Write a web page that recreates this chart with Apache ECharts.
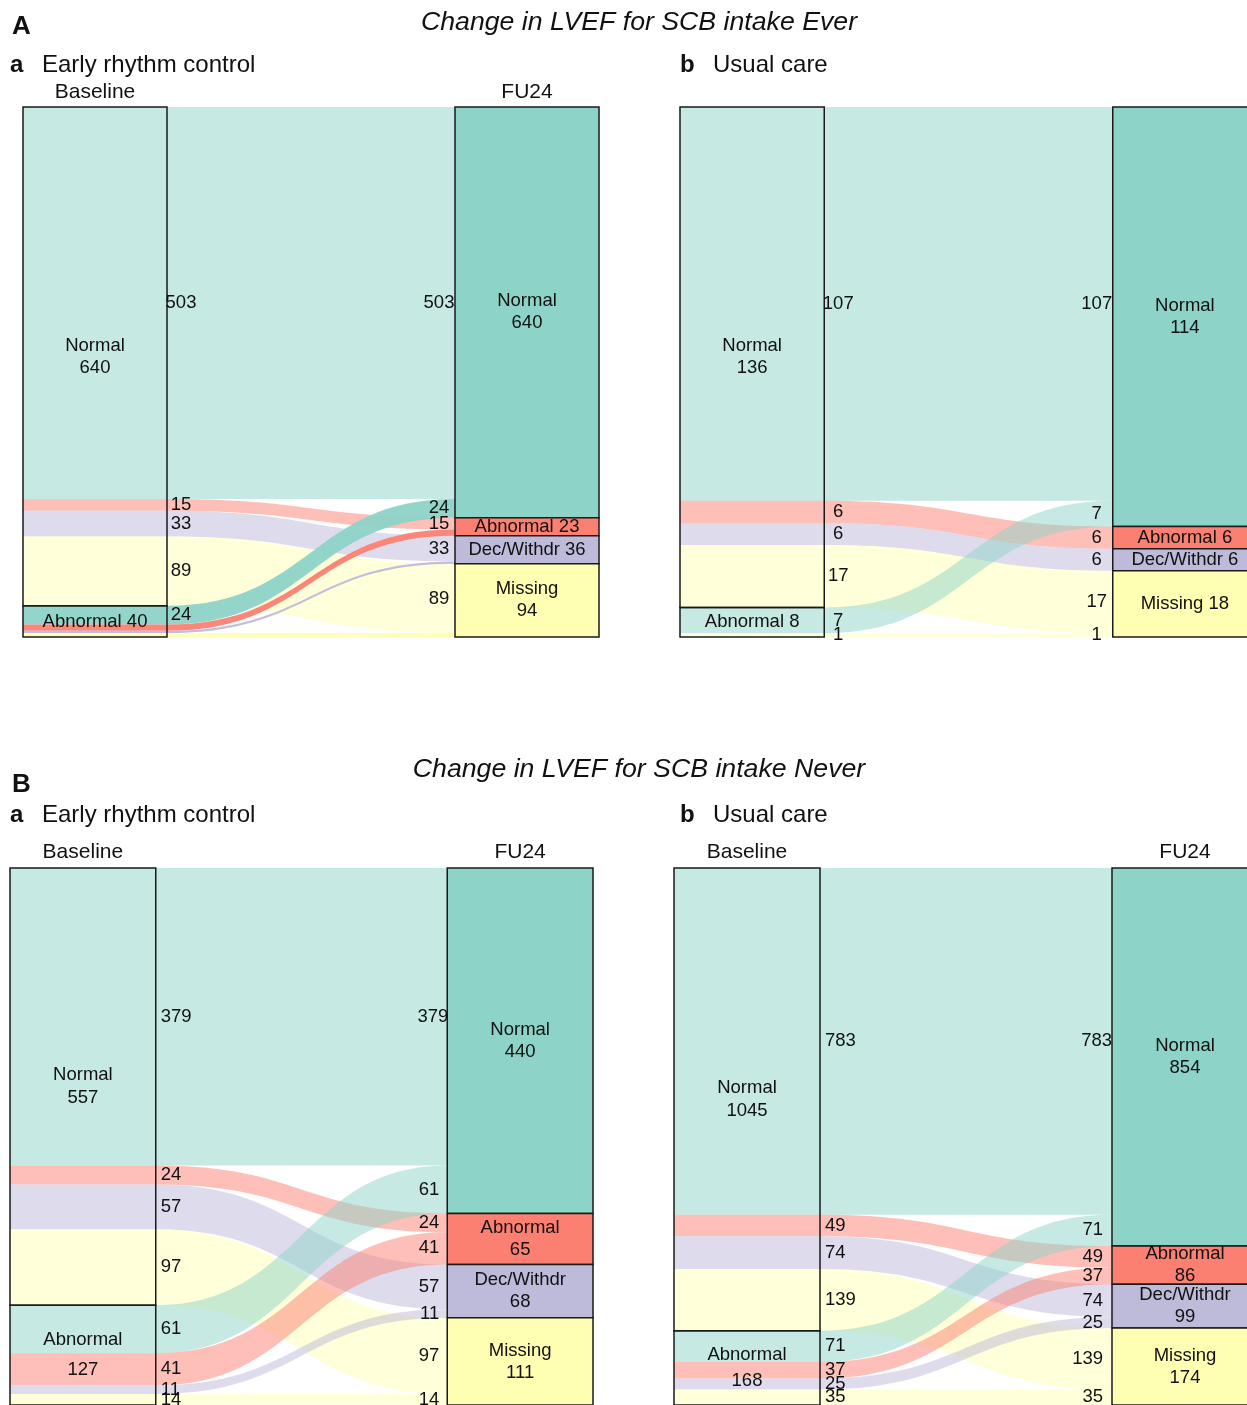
<!DOCTYPE html>
<html>
<head>
<meta charset="utf-8">
<script src="https://cdn.jsdelivr.net/npm/echarts@6/dist/echarts.min.js"></script>
<style>
html, body { margin: 0; padding: 0; background: #fff; }
#chart { width: 1247px; height: 1405px; }
</style>
</head>
<body>
<div id="chart"></div>
<script>
"use strict"

// categories
const baseCats = ["Normal", "Abnormal"];
const fuCats = ["Normal", "Abnormal", "Dec/Withdr", "Missing"];

// flows: rows = baseline category, cols = FU24 category
const everRhythmFlows = [[503, 15, 33, 89], [24, 8, 3, 5]];
const everUsualFlows = [[107, 6, 6, 17], [7, 0, 0, 1]];
const neverRhythmFlows = [[379, 24, 57, 97], [61, 41, 11, 14]];
const neverUsualFlows = [[783, 49, 74, 139], [71, 37, 25, 35]];

// stratum labels as printed
const everRhythmBaseLabels = ["Normal\n640", "Abnormal 40"];
const everRhythmFuLabels = ["Normal\n640", "Abnormal 23", "Dec/Withdr 36", "Missing\n94"];
const everUsualBaseLabels = ["Normal\n136", "Abnormal 8"];
const everUsualFuLabels = ["Normal\n114", "Abnormal 6", "Dec/Withdr 6", "Missing 18"];
const neverRhythmBaseLabels = ["Normal\n557", "Abnormal\n127"];
const neverRhythmFuLabels = ["Normal\n440", "Abnormal\n65", "Dec/Withdr\n68", "Missing\n111"];
const neverUsualBaseLabels = ["Normal\n1045", "Abnormal\n168"];
const neverUsualFuLabels = ["Normal\n854", "Abnormal\n86", "Dec/Withdr\n99", "Missing\n174"];

// which flow counts are printed (small ones hidden in panel A a)
const everRhythmShown = [[1, 1, 1, 1], [1, 0, 0, 0]];

const colors = ["#8dd3c7", "#fb8072", "#bebada", "#ffffb3"];
const FONT = "'Liberation Sans', Arial, sans-serif";
const TXT = "#111";
const PAGE_W = 1247;

function rgba(hex, a)
{
    const n = parseInt(hex.slice(1), 16);
    return `rgba(${n >> 16},${(n >> 8) & 255},${n & 255},${a})`;
}

const panels = [
    {
        flows: everRhythmFlows, baseLabels: everRhythmBaseLabels, fuLabels: everRhythmFuLabels, shown: everRhythmShown,
        left: 23, top: 107, unit: 144, height: 530, headY: 92, solidFrom: 1, baseLH: [22, 22],
        leftAlign: "center", leftDx: 14, rightAlign: "center", rightDx: -16, rightTopDx: -16
    },
    {
        flows: everUsualFlows, baseLabels: everUsualBaseLabels, fuLabels: everUsualFuLabels,
        left: 680, top: 107, unit: 144.25, height: 530, headY: null, solidFrom: -1, baseLH: [22, 22],
        leftAlign: "center", leftDx: 14, rightAlign: "center", rightDx: -16, rightTopDx: -16
    },
    {
        flows: neverRhythmFlows, baseLabels: neverRhythmBaseLabels, fuLabels: neverRhythmFuLabels,
        left: 10, top: 868, unit: 145.75, height: 537, headY: 852, solidFrom: -1, baseLH: [23, 30],
        leftAlign: "left", leftDx: 5, rightAlign: "right", rightDx: -8, rightTopDx: 1
    },
    {
        flows: neverUsualFlows, baseLabels: neverUsualBaseLabels, fuLabels: neverUsualFuLabels,
        left: 674, top: 868, unit: 146, height: 537, headY: 852, solidFrom: -1, baseLH: [23, 26],
        leftAlign: "left", leftDx: 5, rightAlign: "right", rightDx: -9, rightTopDx: 0
    }
];

const grids = [], xAxes = [], yAxes = [], series = [], graphics = [];

function txt(x, y, text, size, extra)
{
    graphics.push({
        type: "text", x: x, y: y, silent: true,
        style: Object.assign({
            text: text, fill: TXT, fontSize: size, fontFamily: FONT,
            align: "left", verticalAlign: "middle"
        }, extra || {})
    });
}

panels.forEach((P, pi) =>
{
    const F = P.flows;
    const baseTot = F.map(r => r.reduce((a, b) => a + b, 0));
    const fuTot = fuCats.map((c, t) => F.reduce((a, r) => a + r[t], 0));
    const total = baseTot.reduce((a, b) => a + b, 0);

    // grid is kept inside the page; the x range is cut instead so the boxes keep their width
    const gw = Math.min(4 * P.unit, PAGE_W - P.left);
    grids.push({ left: P.left, top: P.top, width: gw, height: P.height, show: false });
    xAxes.push({ gridIndex: pi, type: "value", min: 0, max: gw / P.unit, show: false });
    yAxes.push({ gridIndex: pi, type: "value", min: 0, max: total, inverse: true, show: false });

    const baseStart = [0, baseTot[0]];
    const fuStart = [];
    fuTot.reduce((acc, v, t) => { fuStart[t] = acc; return acc + v; }, 0);

    const flowData = [], labelData = [];
    F.forEach((row, s) =>
    {
        row.forEach((v, t) =>
        {
            if (v <= 0) return;
            let ys = baseStart[s];
            for (let k = 0; k < t; k++) ys += row[k];
            let yt = fuStart[t];
            for (let k = 0; k < s; k++) yt += F[k][t];
            flowData.push([s, t, v, ys, yt]);
            const show = P.shown ? P.shown[s][t] : 1;
            if (show)
            {
                labelData.push([0, ys + v / 2, v, 0]);
                labelData.push([1, yt + v / 2, v, (s === 0 && t === 0) ? 1 : 0]);
            }
        });
    });

    const boxData = [];
    baseTot.forEach((v, s) => boxData.push([0, baseStart[s], v, s]));
    fuTot.forEach((v, t) => boxData.push([1, fuStart[t], v, t]));

    series.push({
        type: "custom", xAxisIndex: pi, yAxisIndex: pi, z: 2, silent: true, clip: false,
        data: flowData,
        renderItem: (params, api) =>
        {
            const s = api.value(0), t = api.value(1), v = api.value(2), ys = api.value(3), yt = api.value(4);
            const a0 = api.coord([0, ys]), a1 = api.coord([1, ys]);
            const b0 = api.coord([3, yt]), b1 = api.coord([4, yt]);
            const c0 = api.coord([0, ys + v]), c1 = api.coord([1, ys + v]);
            const d0 = api.coord([3, yt + v]), d1 = api.coord([4, yt + v]);
            const k = (b0[0] - a1[0]) * 0.5;
            const path = [
                "M", a0[0], a0[1], "L", a1[0], a1[1],
                "C", a1[0] + k, a1[1], b0[0] - k, b0[1], b0[0], b0[1],
                "L", b1[0], b1[1], "L", d1[0], d1[1], "L", d0[0], d0[1],
                "C", d0[0] - k, d0[1], c1[0] + k, c1[1], c1[0], c1[1],
                "L", c0[0], c0[1], "Z"
            ].join(" ");
            return {
                type: "path", shape: { pathData: path },
                style: { fill: rgba(colors[t], s === P.solidFrom ? 0.95 : 0.5), stroke: null }
            };
        }
    });

    series.push({
        type: "custom", xAxisIndex: pi, yAxisIndex: pi, z: 3, silent: true, clip: false,
        data: boxData,
        renderItem: (params, api) =>
        {
            const col = api.value(0), y0 = api.value(1), v = api.value(2), idx = api.value(3);
            const p0 = api.coord([col * 3, y0]), p1 = api.coord([col * 3 + 1, y0 + v]);
            const label = col === 0 ? P.baseLabels[idx] : P.fuLabels[idx];
            const lh = col === 0 ? P.baseLH[idx] : 22;
            return {
                type: "group",
                children: [
                    {
                        type: "rect",
                        shape: { x: p0[0], y: p0[1], width: p1[0] - p0[0], height: p1[1] - p0[1] },
                        style: { fill: col === 0 ? "none" : colors[idx], stroke: "#1a1a1a", lineWidth: 1.5 }
                    },
                    {
                        type: "text", x: (p0[0] + p1[0]) / 2, y: (p0[1] + p1[1]) / 2,
                        style: {
                            text: label, fill: TXT, fontSize: 18.5, fontFamily: FONT, lineHeight: lh,
                            align: "center", verticalAlign: "middle"
                        }
                    }
                ]
            };
        }
    });

    series.push({
        type: "custom", xAxisIndex: pi, yAxisIndex: pi, z: 4, silent: true, clip: false,
        data: labelData,
        renderItem: (params, api) =>
        {
            const side = api.value(0), y = api.value(1), v = api.value(2), top = api.value(3);
            let x, align;
            if (side === 0)
            {
                x = api.coord([1, y])[0] + P.leftDx;
                align = P.leftAlign;
            }
            else
            {
                x = api.coord([3, y])[0] + (top ? P.rightTopDx : P.rightDx);
                align = P.rightAlign;
            }
            return {
                type: "text", x: x, y: api.coord([0, y])[1],
                style: { text: String(v), fill: TXT, fontSize: 18.5, fontFamily: FONT, align: align, verticalAlign: "middle" }
            };
        }
    });

    if (P.headY != null)
    {
        txt(P.left + P.unit / 2, P.headY, "Baseline", 21, { align: "center" });
        txt(P.left + 3.5 * P.unit, P.headY, "FU24", 21, { align: "center" });
    }
});

// section and panel titles
txt(12, 26.5, "A", 26, { fontWeight: "bold" });
txt(639, 23, "Change in LVEF for SCB intake Ever", 26.7, { align: "center", fontStyle: "italic" });
txt(10, 65, "a", 24, { fontWeight: "bold" });
txt(42, 65, "Early rhythm control", 24);
txt(680, 65, "b", 24, { fontWeight: "bold" });
txt(713, 65, "Usual care", 24);

txt(12, 785, "B", 26, { fontWeight: "bold" });
txt(639, 770, "Change in LVEF for SCB intake Never", 26.7, { align: "center", fontStyle: "italic" });
txt(10, 815, "a", 24, { fontWeight: "bold" });
txt(42, 815, "Early rhythm control", 24);
txt(680, 815, "b", 24, { fontWeight: "bold" });
txt(713, 815, "Usual care", 24);

const myChart = echarts.init(document.getElementById("chart"), null, { renderer: "canvas" });
myChart.setOption({
    animation: false,
    backgroundColor: "#fff",
    grid: grids,
    xAxis: xAxes,
    yAxis: yAxes,
    graphic: graphics,
    series: series
});
</script>
</body>
</html>
